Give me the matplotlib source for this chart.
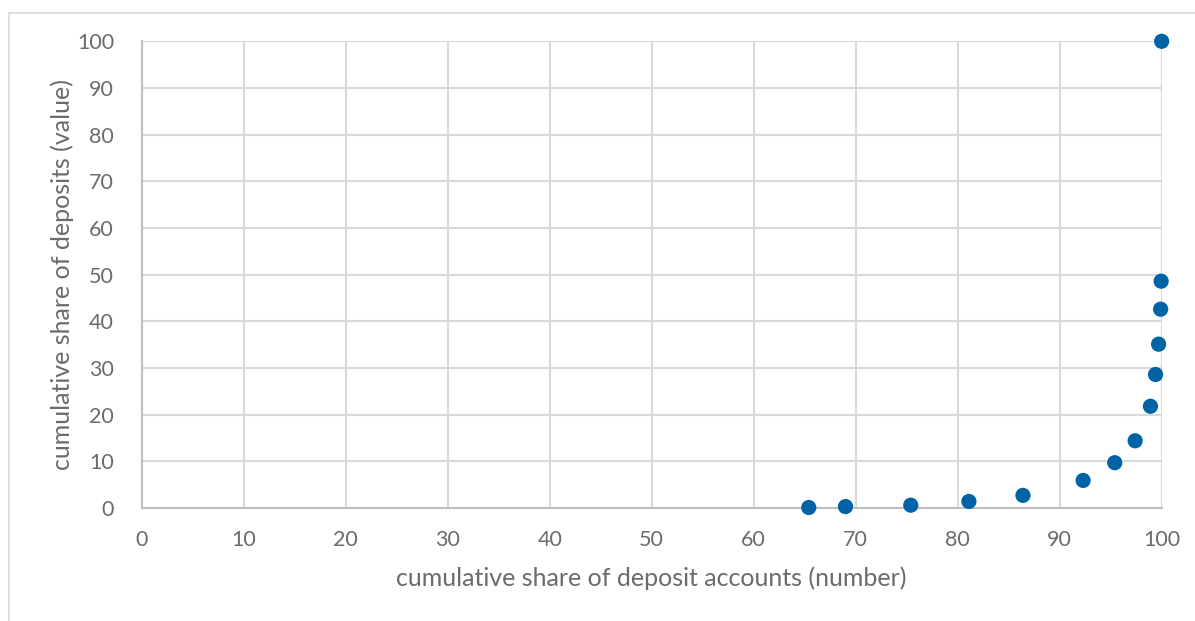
import matplotlib.pyplot as plt
from matplotlib.patches import Rectangle

# cumulative share of deposit accounts (number) vs. deposits (value)
accounts_share = [65.4, 69.0, 75.4, 81.1, 86.4, 92.3, 95.4, 97.4, 98.9, 99.4, 99.7, 99.9, 99.95, 100.0]
deposits_share = [0.1, 0.3, 0.6, 1.4, 2.7, 5.9, 9.7, 14.4, 21.8, 28.6, 35.1, 42.6, 48.6, 100.0]

x_ticks = list(range(0, 101, 10))
y_ticks = list(range(0, 101, 10))

plt.rcParams['font.family'] = ['Lato', 'DejaVu Sans']

fig = plt.figure(figsize=(11.95, 6.21), dpi=100)
ax = fig.add_axes([0.1186, 0.182, 0.8535, 0.7515])

# light frame around the chart
fig.patches.append(Rectangle((9 / 1195, -0.1), 1.2, 1 - 13 / 621 + 0.1,
                             transform=fig.transFigure, fill=False,
                             edgecolor='#d9d9d9', lw=1.2))

ax.scatter(accounts_share, deposits_share, s=120, color='#0063a6',
           edgecolors='none', zorder=3, clip_on=False)

ax.set_xlim(0, 100)
ax.set_ylim(0, 100)
ax.set_xticks(x_ticks)
ax.set_yticks(y_ticks)
ax.grid(True, color='#d9d9d9', lw=1.5)
ax.set_axisbelow(True)
for side in ['top', 'right']:
    ax.spines[side].set_visible(False)
for side in ['left', 'bottom']:
    ax.spines[side].set_color('#bfbfbf')
    ax.spines[side].set_linewidth(1.5)
ax.tick_params(length=0, labelsize=15.5, labelcolor='#6b6b6b')
ax.tick_params(axis='x', pad=16)
ax.tick_params(axis='y', pad=20)

ax.set_xlabel('cumulative share of deposit accounts (number)', fontsize=18,
              color='#6b6b6b', labelpad=12)
ax.set_ylabel('cumulative share of deposits (value)', fontsize=18,
              color='#6b6b6b', labelpad=2)

fig.savefig('out.png', dpi=100)
